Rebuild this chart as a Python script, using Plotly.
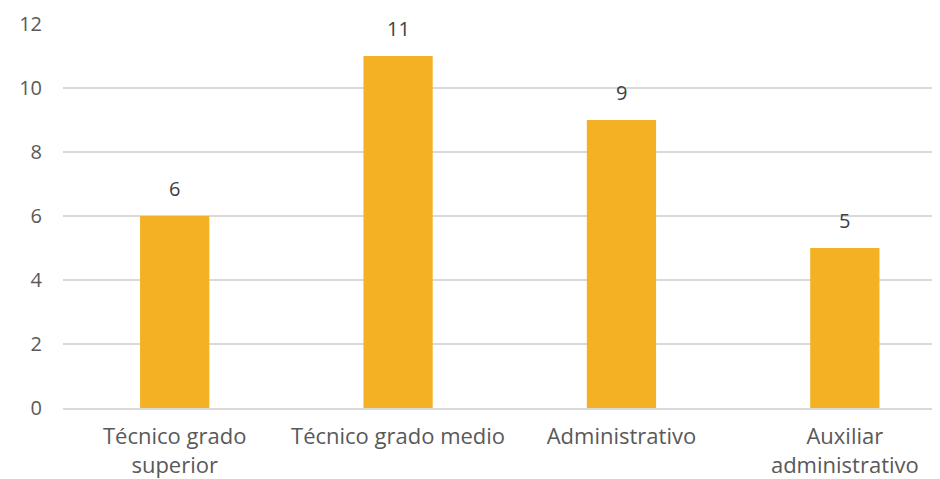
import plotly.graph_objects as go

categories = ["Técnico grado<br>superior", "Técnico grado medio", "Administrativo", "Auxiliar<br>administrativo"]
values = [6, 11, 9, 5]
y_ticks = [0, 2, 4, 6, 8, 10, 12]

fig = go.Figure(go.Bar(
    x=categories, y=values,
    marker=dict(color="#F3B123", line=dict(width=0)),
    width=0.31,
    hoverinfo="x+y",
))

for c, v in zip(categories, values):
    fig.add_annotation(x=c, y=v, text=str(v), showarrow=False, yanchor="bottom",
                       yshift=12, font=dict(color="#404040", size=20))

fig.update_layout(
    width=932, height=471,
    margin=dict(l=55, r=0, t=16, b=61),
    paper_bgcolor="white", plot_bgcolor="white",
    font=dict(family="Open Sans", size=20, color="#595959"),
    showlegend=False,
    xaxis=dict(range=[-0.5, 3.426], showgrid=False, showline=True, linecolor="#D9D9D9",
               linewidth=1.5, ticks="", tickfont=dict(size=22, color="#595959"),
               ticklabelstandoff=8),
    yaxis=dict(range=[0, 12], tickvals=y_ticks, showgrid=True, gridcolor="#D9D9D9",
               gridwidth=1.5, zeroline=False, showline=False, ticks="",
               tickfont=dict(size=20, color="#595959"), ticklabelstandoff=20),
)

fig.write_html("out.html")
